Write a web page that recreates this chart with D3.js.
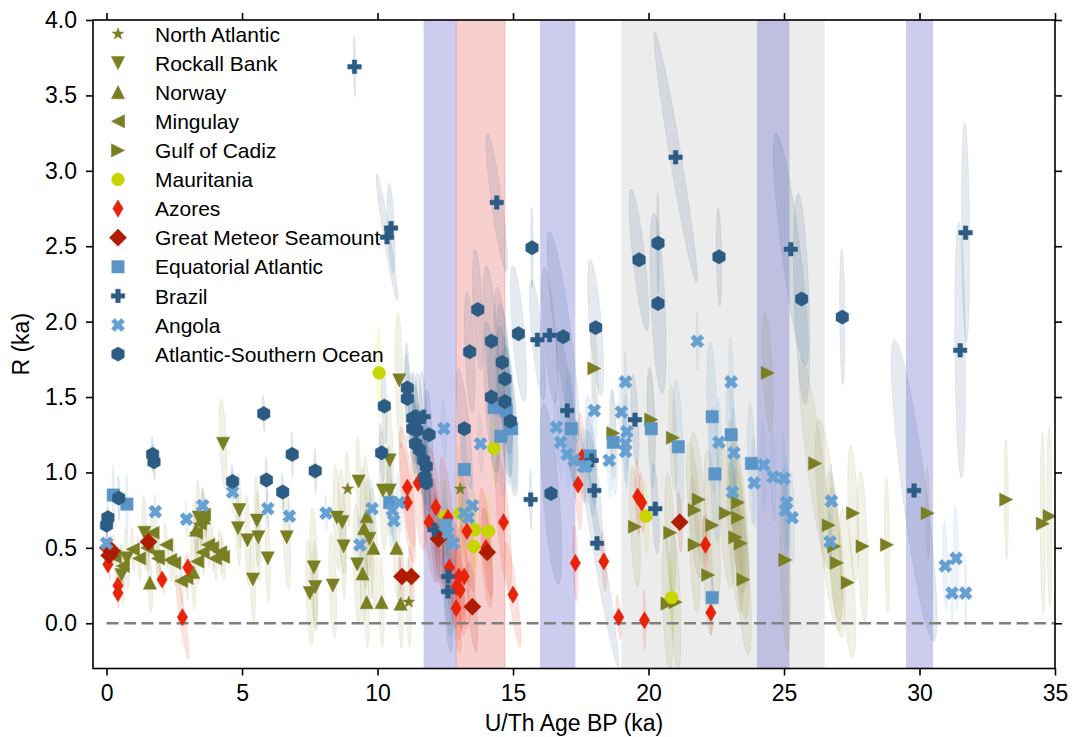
<!DOCTYPE html>
<html><head><meta charset="utf-8">
<script src="https://cdn.jsdelivr.net/npm/d3@7"></script>
<style>
body{margin:0;background:#fff}
svg{display:block}
text{font-family:"Liberation Sans",Arial,Helvetica,sans-serif;fill:#000}
</style>
</head><body>
<svg id="chart" width="1072" height="737"></svg>
<script>
// Each record: [U/Th age (ka), R (ka), age half-width, R half-width]
const northAtlantic = [[8.9,0.89,0.1,0.25],[11.15,0.14,0.1,0.3],[13.05,0.89,0.1,0.3]];
const rockallBank = [
  [0.55,0.32,0.1,0.2],[0.75,0.43,0.1,0.2],[1.4,0.6,0.1,0.25],[1.9,0.44,0.1,0.2],[3.4,0.7,0.1,0.25],
  [4.3,1.19,0.15,0.3],[4.9,0.75,0.1,0.25],[4.85,0.63,0.1,0.25],[5.2,0.55,0.1,0.3],[5.55,0.68,0.1,0.3],
  [5.6,0.57,0.1,0.3],[5.95,0.43,0.1,0.3],[5.4,0.29,0.1,0.3],[6.65,0.57,0.15,0.35],[7.65,0.37,0.15,0.4],
  [7.5,0.2,0.15,0.35],[7.7,0.24,0.1,0.3],[8.35,0.25,0.15,0.35],[8.5,0.7,0.15,0.35],[8.7,0.67,0.15,0.35],
  [8.75,0.51,0.1,0.35],[9.25,0.39,0.15,0.4],[9.3,0.94,0.1,0.3],[9.7,0.56,0.15,0.4],[10.2,0.88,0.15,0.4],
  [10.45,0.88,0.1,0.3],[10.45,1.08,0.15,0.4],[10.8,1.61,0.15,0.45]
];
const norway = [
  [1.6,0.27,0.1,0.2],[3.2,0.34,0.1,0.25],[3.3,0.62,0.1,0.2],[3.6,0.7,0.1,0.2],[9.45,0.33,0.1,0.35],
  [9.5,0.63,0.15,0.4],[9.6,0.71,0.15,0.4],[9.85,0.5,0.15,0.4],[9.6,0.14,0.1,0.3],[10.15,0.14,0.1,0.3],
  [10.7,0.5,0.15,0.35],[10.85,0.13,0.1,0.3]
];
const mingulay = [
  [0.3,0.44,0.08,0.15],[0.6,0.38,0.08,0.15],[0.97,0.49,0.08,0.15],[1.2,0.43,0.08,0.15],[1.5,0.5,0.08,0.15],
  [1.7,0.6,0.08,0.15],[1.9,0.43,0.08,0.15],[2.2,0.52,0.08,0.15],[2.35,0.42,0.08,0.15],[2.5,0.4,0.08,0.15],
  [2.75,0.28,0.08,0.15],[2.95,0.3,0.08,0.15],[3.35,0.41,0.08,0.15],[3.55,0.47,0.08,0.15],[3.75,0.52,0.08,0.15],
  [3.9,0.5,0.08,0.15],[4.0,0.43,0.08,0.15],[4.2,0.47,0.08,0.15],[4.3,0.44,0.08,0.15],[3.3,0.6,0.08,0.15],
  [3.45,0.66,0.08,0.15],[3.6,0.72,0.08,0.15]
];
const gulfOfCadiz = [
  [18.0,1.69,0.15,0.3],[18.7,1.26,0.1,0.3],[20.1,1.35,0.15,0.35],[20.9,1.23,0.15,0.35],[24.4,1.66,0.2,0.4],
  [21.85,0.82,0.3,0.45],[21.7,0.75,0.3,0.45],[19.5,0.64,0.2,0.4],[20.8,0.6,0.2,0.4],[21.7,0.52,0.2,0.45],
  [22.35,0.65,0.3,0.5],[22.85,0.73,0.3,0.5],[23.3,0.8,0.4,0.55],[23.3,0.7,0.3,0.5],[23.2,0.57,0.3,0.5],
  [23.4,0.53,0.3,0.5],[22.2,0.32,0.2,0.4],[23.5,0.29,0.3,0.5],[20.7,0.13,0.2,0.45],[21.0,0.14,0.2,0.45],
  [25.05,0.42,0.2,0.6],[26.15,1.06,0.6,0.7],[26.65,0.65,0.5,0.7],[26.85,0.51,0.3,0.5],[26.95,0.4,0.3,0.5],
  [27.35,0.27,0.3,0.5],[27.55,0.73,0.2,0.45],[27.9,0.51,0.2,0.5],[28.8,0.52,0.1,0.45],[30.3,0.73,0.08,0.3],
  [33.2,0.82,0.08,0.4],[34.55,0.66,0.1,0.6],[34.8,0.71,0.1,0.6]
];
const mauritania = [
  [10.06,1.66,0.1,0.3],[14.3,1.16,0.1,0.25],[13.6,0.62,0.1,0.25],[14.1,0.61,0.1,0.25],[13.55,0.51,0.1,0.25],
  [13.05,0.73,0.1,0.25],[12.5,0.71,0.1,0.25],[19.9,0.71,0.1,0.25],[20.85,0.17,0.1,0.25]
];
const azores = [
  [0.05,0.39,0.1,0.1],[0.42,0.25,0.05,0.1],[0.42,0.2,0.05,0.1],[2.05,0.29,0.1,0.1],[3.0,0.37,0.05,0.1],
  [2.8,0.04,0.25,0.28],[11.1,0.9,0.3,0.4],[11.5,0.93,0.3,0.45],[11.1,0.8,0.3,0.4],[12.15,0.77,0.3,0.4],
  [11.9,0.67,0.3,0.4],[12.6,0.7,0.3,0.4],[12.2,0.6,0.3,0.4],[13.3,0.61,0.3,0.4],[14.65,0.67,0.3,0.45],
  [12.65,0.37,0.3,0.4],[13.0,0.31,0.2,0.35],[13.2,0.31,0.2,0.35],[12.9,0.24,0.2,0.35],[13.05,0.22,0.2,0.3],
  [12.9,0.1,0.2,0.3],[14.0,0.5,0.25,0.4],[15.0,0.19,0.3,0.35],[17.4,0.92,0.15,0.3],[17.55,1.1,0.15,0.3],
  [17.3,0.4,0.1,0.25],[18.35,0.41,0.1,0.2],[18.9,0.04,0.1,0.15],[19.85,0.02,0.05,0.2],[19.6,0.84,0.1,0.25],
  [19.75,0.8,0.1,0.2],[22.1,0.52,0.1,0.2],[22.3,0.07,0.05,0.15]
];
const greatMeteor = [
  [0.05,0.5,0.05,0.1],[0.1,0.45,0.05,0.1],[0.2,0.48,0.05,0.1],[1.55,0.54,0.05,0.1],[10.9,0.31,0.1,0.2],
  [11.25,0.31,0.1,0.2],[12.25,0.56,0.2,0.3],[13.5,0.11,0.2,0.3],[14.05,0.47,0.2,0.3],[21.15,0.67,0.1,0.2]
];
const equatorialAtlantic = [
  [0.25,0.85,0.05,0.2],[0.75,0.79,0.05,0.2],[10.45,0.8,0.1,0.3],[13.2,1.02,0.1,0.3],[14.3,1.43,0.2,0.5],
  [14.75,1.41,0.2,0.5],[14.55,1.24,0.2,0.4],[14.95,1.29,0.2,0.4],[17.15,1.29,0.2,0.4],[17.85,1.11,0.2,0.4],
  [12.5,0.65,0.1,0.3],[18.7,1.2,0.15,0.35],[20.1,1.29,0.15,0.4],[21.1,1.17,0.2,0.45],[22.35,1.37,0.2,0.5],
  [23.05,1.25,0.2,0.4],[22.45,0.99,0.2,0.45],[23.8,1.06,0.15,0.4],[22.35,0.17,0.05,0.15]
];
const brazil = [
  [9.15,3.69,0.05,0.2],[10.5,2.62,0.15,0.3],[10.35,2.56,0.4,0.42],[14.4,2.79,0.4,0.46],[21.0,3.09,0.8,0.83],
  [25.25,2.48,0.65,0.77],[31.7,2.59,0.15,0.73],[31.5,1.81,0.2,0.85],[29.8,0.88,0.85,1.0],[15.9,1.88,0.3,0.4],
  [16.35,1.91,0.3,0.45],[17.0,1.41,0.4,0.5],[15.65,0.82,0.05,0.2],[18.0,0.88,0.3,0.4],[18.1,0.53,0.8,0.82],
  [17.9,1.08,0.2,0.3],[12.6,0.31,0.2,0.4],[12.6,0.21,0.2,0.4],[12.1,0.62,0.2,0.35],[11.4,1.37,0.15,0.3],
  [11.7,1.37,0.15,0.3],[19.5,1.35,0.15,0.3],[20.25,0.76,0.15,0.3]
];
const angola = [
  [0.0,0.53,0.03,0.12],[1.8,0.74,0.05,0.12],[2.95,0.69,0.05,0.12],[3.55,0.78,0.05,0.12],[4.65,0.87,0.05,0.15],
  [5.95,0.76,0.05,0.12],[6.75,0.71,0.05,0.12],[8.1,0.73,0.05,0.12],[9.35,0.52,0.1,0.2],[9.8,0.76,0.1,0.2],
  [10.55,0.75,0.1,0.2],[10.6,0.68,0.1,0.2],[10.8,0.8,0.1,0.2],[12.45,1.29,0.1,0.2],[13.8,1.19,0.1,0.2],
  [13.2,0.73,0.1,0.2],[13.5,0.78,0.1,0.2],[13.35,0.7,0.1,0.2],[12.5,0.65,0.1,0.2],[12.6,0.6,0.1,0.2],
  [12.8,0.53,0.1,0.2],[16.6,1.3,0.1,0.25],[16.75,1.2,0.1,0.25],[17.0,1.12,0.1,0.25],[17.25,1.08,0.1,0.25],
  [17.6,1.04,0.1,0.25],[18.0,1.41,0.1,0.25],[21.8,1.87,0.05,0.2],[19.15,1.6,0.05,0.2],[19.0,1.4,0.1,0.25],
  [19.2,1.27,0.1,0.25],[19.15,1.19,0.1,0.25],[19.15,1.14,0.1,0.25],[18.55,1.08,0.1,0.25],[17.7,1.04,0.1,0.25],
  [22.6,1.2,0.1,0.3],[23.05,1.6,0.1,0.3],[23.15,1.13,0.1,0.3],[23.1,0.87,0.1,0.25],[23.9,0.93,0.1,0.3],
  [24.25,1.05,0.1,0.3],[24.6,0.97,0.1,0.3],[25.0,0.96,0.1,0.3],[25.1,0.8,0.1,0.3],[25.05,0.75,0.1,0.3],
  [25.3,0.7,0.1,0.3],[26.75,0.81,0.05,0.25],[26.7,0.54,0.05,0.2],[30.95,0.38,0.1,0.3],[31.35,0.43,0.1,0.35],
  [31.2,0.2,0.05,0.2],[31.7,0.2,0.05,0.25]
];
const atlanticSouthernOcean = [
  [0.0,0.65,0.03,0.1],[0.05,0.7,0.03,0.1],[0.45,0.83,0.05,0.15],[1.7,1.12,0.05,0.12],[1.75,1.07,0.05,0.12],
  [4.65,0.94,0.05,0.12],[5.8,1.39,0.05,0.12],[5.9,0.95,0.05,0.15],[6.5,0.87,0.05,0.12],[6.85,1.12,0.05,0.15],
  [7.7,1.01,0.05,0.15],[10.15,1.13,0.1,0.2],[10.25,1.44,0.1,0.25],[11.1,1.56,0.1,0.3],[11.1,1.49,0.1,0.3],
  [11.3,1.36,0.15,0.3],[11.55,1.36,0.15,0.3],[11.3,1.29,0.15,0.3],[11.45,1.28,0.15,0.3],[11.9,1.25,0.15,0.3],
  [11.4,1.19,0.15,0.3],[11.55,1.15,0.15,0.3],[11.7,1.08,0.15,0.3],[11.8,1.04,0.15,0.3],[11.75,0.97,0.15,0.3],
  [11.8,0.93,0.15,0.3],[13.2,1.29,0.3,0.4],[13.7,2.08,0.2,0.4],[13.4,1.8,0.2,0.4],[14.2,1.87,0.3,0.5],
  [14.6,1.73,0.3,0.5],[14.7,1.62,0.3,0.5],[14.2,1.5,0.3,0.5],[14.7,1.47,0.3,0.5],[14.9,1.34,0.3,0.5],
  [15.2,1.92,0.3,0.45],[15.7,2.49,0.05,0.27],[16.85,1.9,0.6,0.7],[18.05,1.96,0.3,0.45],[16.4,0.86,0.4,0.6],
  [19.65,2.41,0.37,0.47],[20.35,2.52,0.05,0.33],[20.35,2.12,0.3,0.6],[22.6,2.43,0.1,0.33],[25.65,2.15,0.3,0.7],
  [27.15,2.03,0.1,0.45]
];

// Climate intervals shaded behind the data (ka)
const stadials = [[11.7,12.9],[16.0,17.3],[24.0,25.2],[29.5,30.5]];
const interstadials = [[12.9,14.7]];
const glacialMaximum = [[19.0,26.5]];

const xTicks = [0,5,10,15,20,25,30,35];
const yTicks = [0,0.5,1,1.5,2,2.5,3,3.5,4];

const olive = "#7b7f24";
const series = [
  {name:"North Atlantic", data:northAtlantic, shape:"star", color:olive},
  {name:"Rockall Bank", data:rockallBank, shape:"triDown", color:olive},
  {name:"Norway", data:norway, shape:"triUp", color:olive},
  {name:"Mingulay", data:mingulay, shape:"triLeft", color:olive},
  {name:"Gulf of Cadiz", data:gulfOfCadiz, shape:"triRight", color:olive},
  {name:"Mauritania", data:mauritania, shape:"circle", color:"#c6d500"},
  {name:"Azores", data:azores, shape:"diamond", color:"#e8230a"},
  {name:"Great Meteor Seamount", data:greatMeteor, shape:"diamondBig", color:"#b01c02"},
  {name:"Equatorial Atlantic", data:equatorialAtlantic, shape:"square", color:"#5b95c7"},
  {name:"Brazil", data:brazil, shape:"plus", color:"#2c5b83"},
  {name:"Angola", data:angola, shape:"cross", color:"#66a0d3"},
  {name:"Atlantic-Southern Ocean", data:atlanticSouthernOcean, shape:"hexagon", color:"#2c5b83"}
];

const frame = {left:93, right:1055, top:20, bottom:668.5};
const x = d3.scaleLinear().domain([-0.5, 35]).range([frame.left, frame.right]);
const y = d3.scaleLinear().domain([-0.3, 4.0]).range([frame.bottom, frame.top]);
const svg = d3.select("#chart");

svg.append("defs").append("clipPath").attr("id","plotclip")
  .append("rect").attr("x",frame.left).attr("y",frame.top)
  .attr("width",frame.right-frame.left).attr("height",frame.bottom-frame.top);

const plot = svg.append("g").attr("clip-path","url(#plotclip)");

function band(list, fill, stroke) {
  plot.append("g").selectAll("rect").data(list).join("rect")
    .attr("x", d => x(d[0])).attr("width", d => x(d[1]) - x(d[0]))
    .attr("y", frame.top).attr("height", frame.bottom - frame.top)
    .attr("fill", fill).attr("stroke", stroke || "none").attr("stroke-width", 1);
}
band(glacialMaximum, "#ececec");
band(stadials, "rgba(85,85,200,0.30)");
band(interstadials, "rgba(225,55,55,0.24)", "rgba(225,55,55,0.25)");

// Error ellipses: age and R errors are anti-correlated (R derives from the age)
const kx = x(1) - x(0), ky = y(0) - y(1);
function ellipse(d) {
  const a = d[2] * kx, b = d[3] * ky;
  const rho = -Math.min(0.97, d[2] / d[3]);
  const c = -rho * a * b;               // covariance in screen space (y down)
  const tr = (a*a + b*b) / 2, df = (a*a - b*b) / 2;
  const s = Math.sqrt(df*df + c*c);
  const l1 = tr + s, l2 = Math.max(tr - s, 0.6);
  const th = 0.5 * Math.atan2(2*c, a*a - b*b) * 180 / Math.PI;
  return {rx: Math.sqrt(l1), ry: Math.sqrt(l2), th};
}
const ellG = plot.append("g");
series.forEach(sr => {
  ellG.append("g").selectAll("ellipse").data(sr.data).join("ellipse")
    .each(function(d) {
      const e = ellipse(d);
      d3.select(this).attr("rx", e.rx).attr("ry", e.ry)
        .attr("transform", `translate(${x(d[0])},${y(d[1])}) rotate(${e.th})`);
    })
    .attr("fill", sr.color).attr("fill-opacity", sr.color === olive ? 0.11 : 0.13)
    .attr("stroke", sr.color).attr("stroke-opacity", 0.1).attr("stroke-width", 0.8);
});

// zero line
plot.append("line").attr("x1", x(0)).attr("x2", x(35)).attr("y1", y(0)).attr("y2", y(0))
  .attr("stroke", "#808080").attr("stroke-width", 2.7).attr("stroke-dasharray", "12,5.5");

// marker outlines
function poly(pts) { return "M" + pts.map(p => p[0].toFixed(2) + "," + p[1].toFixed(2)).join("L") + "Z"; }
function shapePath(shape) {
  const h = 6.6;
  switch (shape) {
    case "star": {
      const pts = [];
      for (let i = 0; i < 10; i++) {
        const r = i % 2 ? 2.5 : 6.3, a = -Math.PI/2 + i * Math.PI/5;
        pts.push([r*Math.cos(a), r*Math.sin(a)]);
      }
      return poly(pts);
    }
    case "triDown": return poly([[-h,-h],[h,-h],[0,h]]);
    case "triUp": return poly([[0,-h],[h,h],[-h,h]]);
    case "triLeft": return poly([[-h,0],[h,-h],[h,h]]);
    case "triRight": return poly([[h,0],[-h,h],[-h,-h]]);
    case "circle": return d3.symbol(d3.symbolCircle, Math.PI*6.4*6.4)();
    case "diamond": return poly([[0,-8.6],[5.2,0],[0,8.6],[-5.2,0]]);
    case "diamondBig": return poly([[0,-8.6],[8.6,0],[0,8.6],[-8.6,0]]);
    case "square": return poly([[-6.2,-6.2],[6.2,-6.2],[6.2,6.2],[-6.2,6.2]]);
    case "plus": {
      const u = 13.5/6;
      const P = [[1,-3],[1,-1],[3,-1],[3,1],[1,1],[1,3],[-1,3],[-1,1],[-3,1],[-3,-1],[-1,-1],[-1,-3]];
      return poly(P.map(p => [p[0]*u, p[1]*u]));
    }
    case "cross": {
      const u = 14/6, c = Math.SQRT1_2;
      const P = [[1,-3],[1,-1],[3,-1],[3,1],[1,1],[1,3],[-1,3],[-1,1],[-3,1],[-3,-1],[-1,-1],[-1,-3]];
      return poly(P.map(p => [(p[0]-p[1])*c*u, (p[0]+p[1])*c*u]));
    }
    case "hexagon": {
      const pts = [];
      for (let i = 0; i < 6; i++) { const a = -Math.PI/2 + i*Math.PI/3; pts.push([7.2*Math.cos(a), 7.2*Math.sin(a)]); }
      return poly(pts);
    }
  }
}

const markG = plot.append("g");
series.forEach(sr => {
  const p = shapePath(sr.shape);
  markG.append("g").selectAll("path").data(sr.data).join("path")
    .attr("d", p).attr("transform", d => `translate(${x(d[0])},${y(d[1])})`)
    .attr("fill", sr.color).attr("stroke", sr.color).attr("stroke-width", 0.5);
});

// axes on all four sides, ticks outward
const fs = "23px";
const ax = svg.append("g");
const axBottom = ax.append("g").attr("transform", `translate(0,${frame.bottom})`)
  .call(d3.axisBottom(x).tickValues(xTicks).tickSize(7).tickPadding(9.5).tickFormat(d3.format("d")));
const axLeft = ax.append("g").attr("transform", `translate(${frame.left},0)`)
  .call(d3.axisLeft(y).tickValues(yTicks).tickSize(7).tickPadding(9).tickFormat(d3.format(".1f")));
const axTop = ax.append("g").attr("transform", `translate(0,${frame.top})`)
  .call(d3.axisTop(x).tickValues(xTicks).tickSize(7).tickFormat(""));
const axRight = ax.append("g").attr("transform", `translate(${frame.right},0)`)
  .call(d3.axisRight(y).tickValues(yTicks).tickSize(7).tickFormat(""));
[axBottom, axLeft, axTop, axRight].forEach(g => {
  g.select(".domain").remove();
  g.selectAll(".tick line").attr("stroke", "#000").attr("stroke-width", 1.6);
  g.selectAll(".tick text").style("font-size", fs)
    .style("font-family", '"Liberation Sans", Arial, sans-serif').attr("fill", "#000");
});
ax.append("rect").attr("x", frame.left).attr("y", frame.top)
  .attr("width", frame.right - frame.left).attr("height", frame.bottom - frame.top)
  .attr("fill", "none").attr("stroke", "#000").attr("stroke-width", 1.6);

svg.append("text").attr("x", (frame.left + frame.right)/2).attr("y", 731)
  .attr("text-anchor", "middle").style("font-size", fs).text("U/Th Age BP (ka)");
svg.append("text").attr("transform", `translate(29,${(frame.top + frame.bottom)/2}) rotate(-90)`)
  .attr("text-anchor", "middle").style("font-size", fs).text("R (ka)");

// legend
const lg = svg.append("g");
series.forEach((sr, i) => {
  const cy = 34 + i * 29.1;
  lg.append("path").attr("d", shapePath(sr.shape))
    .attr("transform", `translate(118,${cy})`)
    .attr("fill", sr.color).attr("stroke", sr.color).attr("stroke-width", 0.5);
  lg.append("text").attr("x", 155).attr("y", cy + 7.6)
    .style("font-size", "21px").text(sr.name);
});
</script>
</body></html>
